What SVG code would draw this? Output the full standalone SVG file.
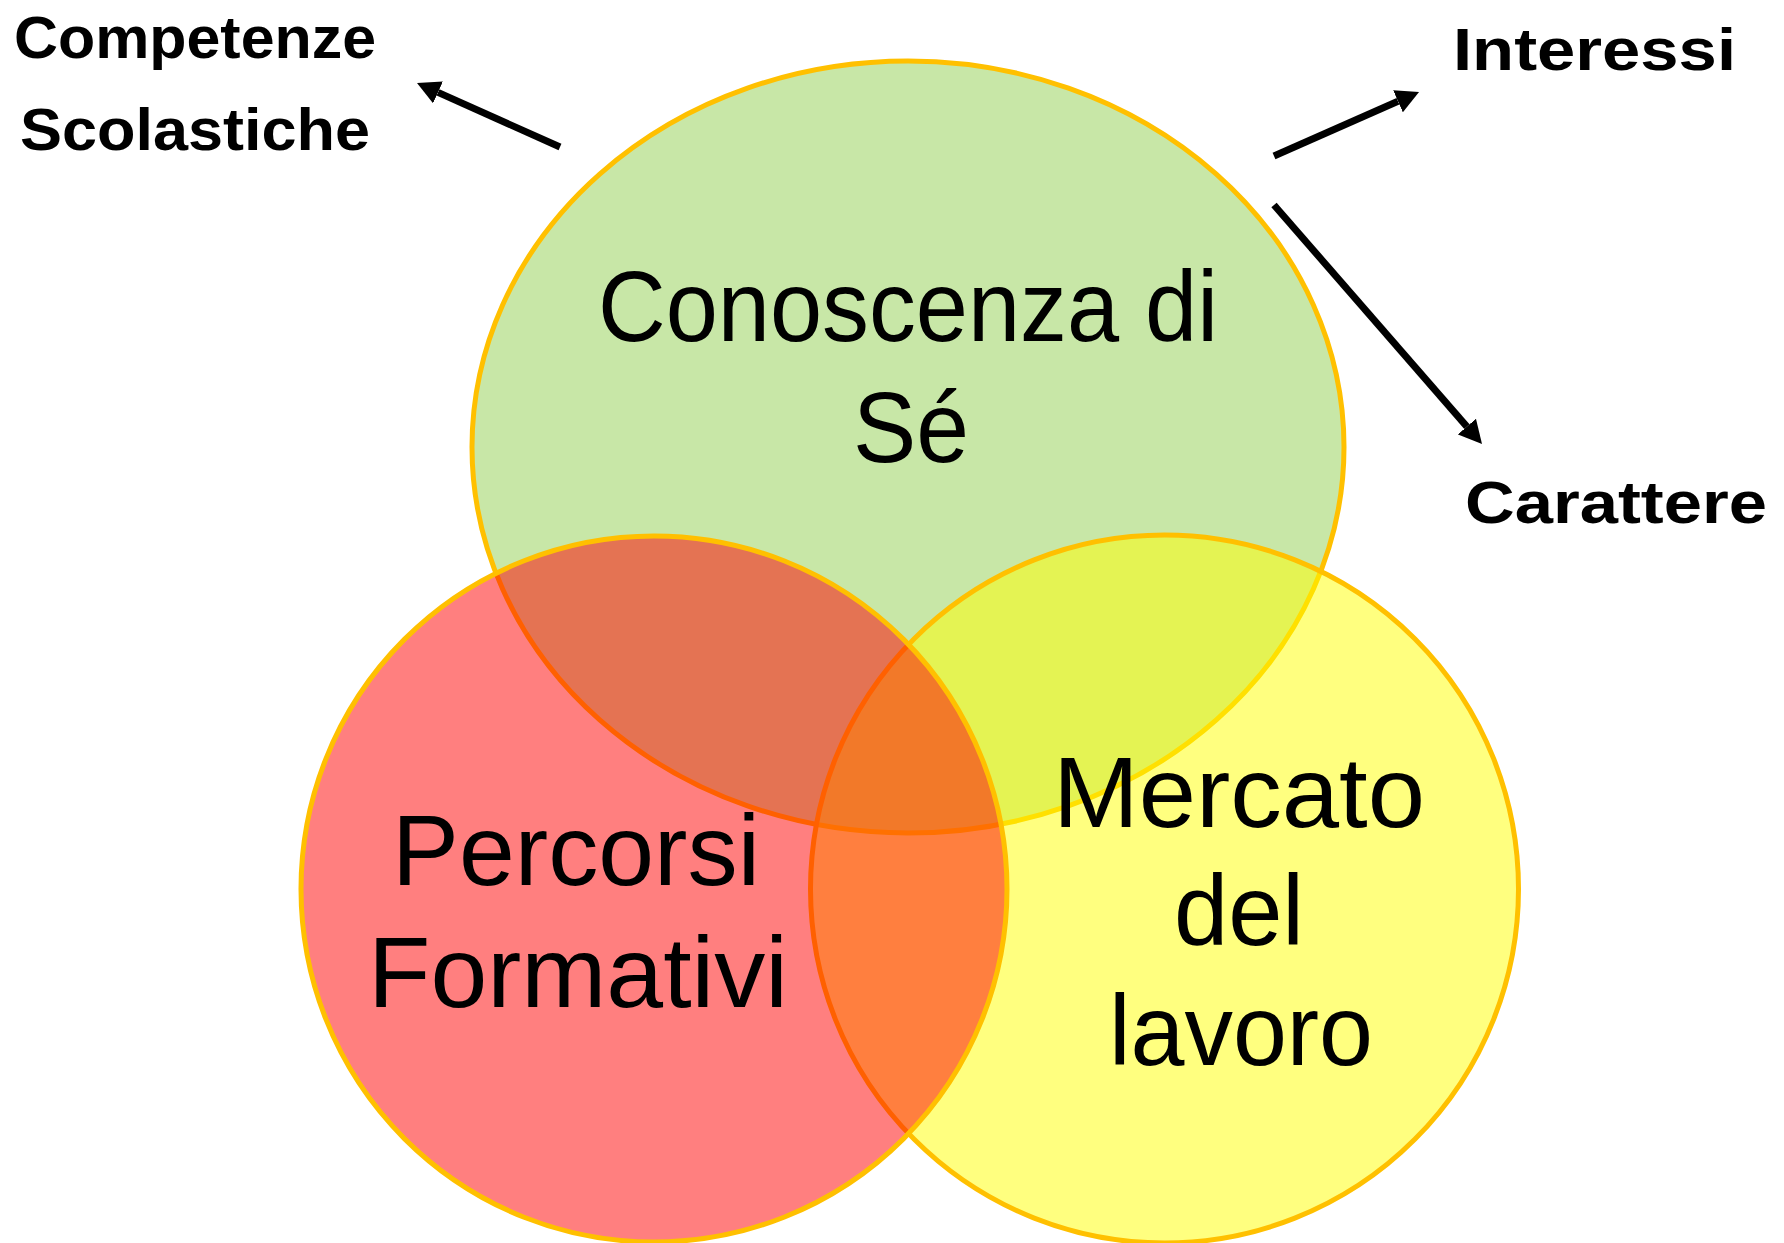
<svg xmlns="http://www.w3.org/2000/svg" width="1784" height="1243" viewBox="0 0 1784 1243">
  <style>
    .circ { stroke: #FFC000; stroke-width: 5; fill-opacity: 0.5; }
    .big { font-family: "Liberation Sans", Arial, sans-serif; font-size: 100px; fill: #000; }
    .small { font-family: "Liberation Sans", Arial, sans-serif; font-size: 60px; font-weight: bold; fill: #000; }
    .conn { stroke: #000; stroke-width: 7; fill: none; marker-end: url(#head); }
  </style>
  <defs>
    <marker id="head" markerUnits="userSpaceOnUse" markerWidth="24" markerHeight="24" viewBox="0 0 24 24" refX="0" refY="12" orient="auto">
      <path d="M0,0 L23,12 L0,24 z" fill="#000"/>
    </marker>
  </defs>
  <rect width="1784" height="1243" fill="#fff"/>

  <g id="node-conoscenza">
    <ellipse class="circ" cx="908" cy="447" rx="436" ry="386" fill="#92D050"/>
    <text class="big" x="598" y="341" textLength="620" lengthAdjust="spacingAndGlyphs">Conoscenza di</text>
    <text class="big" x="853" y="462" textLength="116" lengthAdjust="spacingAndGlyphs">Sé</text>
  </g>

  <g id="node-mercato">
    <circle class="circ" cx="1164.5" cy="889" r="354" fill="#FFFF00"/>
    <text class="big" x="1053" y="827" textLength="372" lengthAdjust="spacingAndGlyphs">Mercato</text>
    <text class="big" x="1174" y="945" textLength="130" lengthAdjust="spacingAndGlyphs">del</text>
    <text class="big" x="1109" y="1065" textLength="264" lengthAdjust="spacingAndGlyphs">lavoro</text>
  </g>

  <g id="node-percorsi">
    <circle class="circ" cx="654" cy="889" r="353" fill="#FF0000"/>
    <text class="big" x="392" y="885" textLength="368" lengthAdjust="spacingAndGlyphs">Percorsi</text>
    <text class="big" x="368" y="1007" textLength="420" lengthAdjust="spacingAndGlyphs">Formativi</text>
  </g>

  <g id="node-competenze">
    <text class="small" x="14" y="58" textLength="362" lengthAdjust="spacingAndGlyphs">Competenze</text>
    <text class="small" x="20" y="150" textLength="350" lengthAdjust="spacingAndGlyphs">Scolastiche</text>
  </g>

  <g id="node-interessi">
    <text class="small" x="1453" y="70" textLength="283" lengthAdjust="spacingAndGlyphs">Interessi</text>
  </g>

  <g id="node-carattere">
    <text class="small" x="1465" y="523" textLength="302" lengthAdjust="spacingAndGlyphs">Carattere</text>
  </g>

  <g id="connectors">
    <line class="conn" x1="560" y1="147" x2="438" y2="92.4"/>
    <line class="conn" x1="1274" y1="156" x2="1398" y2="101.3"/>
    <line class="conn" x1="1274" y1="205" x2="1466.9" y2="426.6"/>
  </g>
</svg>
